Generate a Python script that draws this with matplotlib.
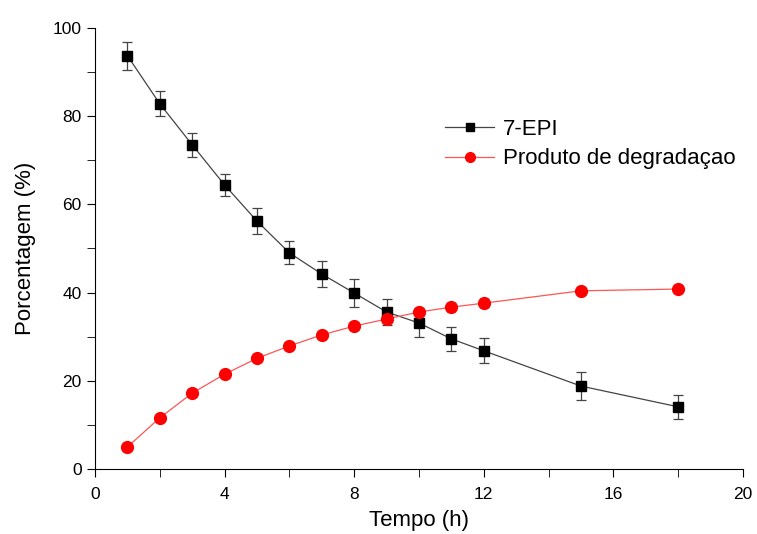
import numpy as np
import matplotlib
matplotlib.use('Agg')
import matplotlib.pyplot as plt
from matplotlib.ticker import MultipleLocator
from matplotlib.lines import Line2D

plt.rcParams['font.family'] = ['Liberation Sans', 'DejaVu Sans']

# dados
tempo = [1, 2, 3, 4, 5, 6, 7, 8, 9, 10, 11, 12, 15, 18]
epi = [93.7, 82.8, 73.5, 64.4, 56.2, 49.0, 44.2, 39.9, 35.6, 33.1, 29.5, 26.8, 18.8, 14.1]
epi_err = [3.2, 2.8, 2.7, 2.4, 2.9, 2.6, 3.0, 3.2, 3.0, 3.2, 2.8, 2.8, 3.1, 2.7]
prod = [5.0, 11.6, 17.2, 21.5, 25.1, 27.9, 30.4, 32.4, 34.0, 35.6, 36.7, 37.6, 40.4, 40.8]
prod_err = [0.3, 0.5, 0.6, 0.6, 0.6, 0.6, 0.6, 0.7, 0.8, 0.8, 1.0, 1.2, 0.8, 0.8]

fig = plt.figure(figsize=(7.57, 5.34), dpi=100)
ax = fig.add_axes([0.1255, 0.1217, 0.856, 0.826])

ax.errorbar(tempo, epi, yerr=epi_err, color='#444444', lw=0.9, marker='s', ms=7.5,
            mfc='black', mec='black', ecolor='#444444', elinewidth=0.9,
            capsize=3.5, capthick=0.9, zorder=3)
ax.errorbar(tempo, prod, yerr=prod_err, color='#ff5555', lw=0.9, marker='o', ms=8.5,
            mfc='red', mec='red', ecolor='#888888', elinewidth=0.8,
            capsize=3, capthick=0.8, zorder=4)

ax.set_xlim(0, 20)
ax.set_ylim(0, 100)
ax.xaxis.set_major_locator(MultipleLocator(4))
ax.xaxis.set_minor_locator(MultipleLocator(2))
ax.yaxis.set_major_locator(MultipleLocator(20))
ax.yaxis.set_minor_locator(MultipleLocator(10))
ax.tick_params(which='both', direction='out', labelsize=12.5, length=6)
ax.tick_params(axis='x', pad=7)
ax.spines['top'].set_visible(False)
ax.spines['right'].set_visible(False)

ax.set_xlabel('Tempo (h)', fontsize=16, labelpad=6)
ax.set_ylabel('Porcentagem (%)', fontsize=16, labelpad=12)

h1 = Line2D([], [], color='#444444', lw=0.9, marker='s', ms=6, mfc='black', mec='black')
h2 = Line2D([], [], color='#ff5555', lw=0.9, marker='o', ms=7, mfc='red', mec='red')
ax.legend([h1, h2], ['7-EPI', 'Produto de degradaçao'], loc='upper left',
          bbox_to_anchor=(0.51, 0.84), frameon=False, fontsize=16,
          handlelength=2.2, handletextpad=0.4, labelspacing=0.4)

plt.savefig('out.png', dpi=100)
